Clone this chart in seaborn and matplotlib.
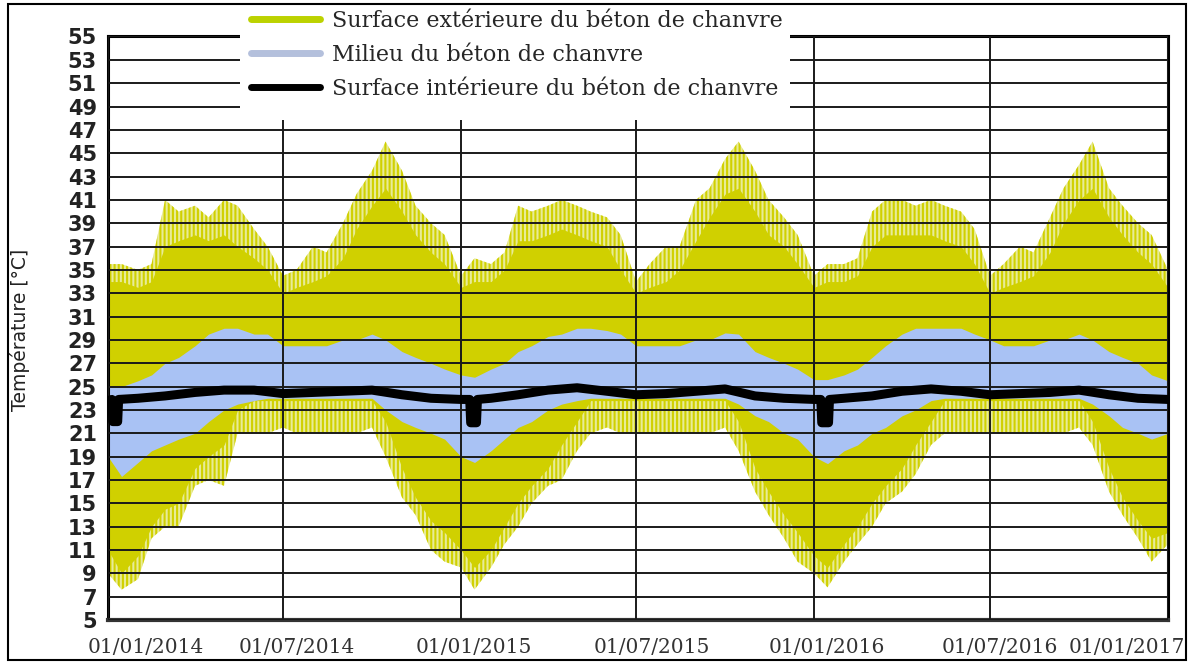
import numpy as np
import pandas as pd
import matplotlib
matplotlib.use("Agg")
import matplotlib.pyplot as plt
import matplotlib.dates as mdates
import matplotlib.transforms as mtransforms
from matplotlib.patches import Rectangle
from matplotlib.lines import Line2D
import seaborn as sns

# ---------------- data ----------------
# semi-monthly sampling dates (1st and 15th of each month)
dates = pd.date_range("2014-01-01", "2017-01-01", freq="SMS")

# Outer surface of hemp concrete: spike maxima, typical upper, typical lower, spike minima
ext_peak_hi = [35.5, 35.5, 35, 35.5, 41, 40, 40.5, 39.5, 41, 40.5, 38.5, 37,
               34.5, 35, 37, 36.5, 39, 41.5, 43.5, 46, 43.5, 40.5, 39, 38,
               34.5, 36, 35.5, 36.5, 40.5, 40, 40.5, 41, 40.5, 40, 39.5, 38,
               34, 35.5, 37, 37, 41, 42, 44.5, 46, 43.5, 41, 39.5, 38,
               34.5, 35.5, 35.5, 36, 40, 41, 41, 40.5, 41, 40.5, 40, 38.5,
               34.5, 35.5, 37, 36.5, 39.5, 42, 44, 46, 42, 40.5, 39, 38,
               35]
ext_hi = [34, 34, 33.5, 34, 37, 37.5, 38, 37.5, 38, 37, 36, 35,
          33, 33.5, 34, 34.5, 36, 38.5, 40.5, 42, 40, 38, 36.5, 35.5,
          33.5, 34, 34, 35, 37.5, 37.5, 38, 38.5, 38, 37.5, 37, 35,
          33, 33.5, 34, 35, 37.5, 39.5, 41.5, 42, 40, 38, 37, 35.5,
          33.5, 34, 34, 34.5, 37, 38, 38, 38, 38, 37.5, 37, 35.5,
          33, 33.5, 34, 34.5, 36.5, 39, 41, 42, 39.5, 38, 36.5, 35.5,
          33.5]
ext_lo = [11, 9, 10.5, 13, 14.5, 15, 18, 19, 20, 23, 23.8, 23.8,
          23.8, 23.8, 23.8, 23.8, 23.8, 23.8, 23.8, 22, 18, 15.5, 13.5, 12.5,
          11, 9.5, 11, 13, 15, 16.5, 18, 20, 22, 23.8, 23.8, 23.8,
          23.8, 23.8, 23.8, 23.8, 23.8, 23.8, 23.8, 22, 18, 16, 14, 12.5,
          10.5, 9.5, 11.5, 13, 15, 16.5, 18, 20, 22, 23.8, 23.8, 23.8,
          23.8, 23.8, 23.8, 23.8, 23.8, 23.8, 23.8, 22, 18, 15.5, 13.5, 12,
          12.5]
ext_peak_lo = [9, 7.6, 8.5, 12, 13, 13, 16.5, 17, 16.5, 21, 21, 21,
               21.5, 21, 21, 21, 21, 21, 21.5, 19, 15.5, 14, 11, 10,
               9.5, 7.6, 9.5, 11.5, 13, 15, 16.5, 17, 19.5, 21, 21.5, 21,
               21, 21, 21, 21, 21, 21, 21.5, 19.5, 16, 14, 12, 10,
               9, 7.8, 10, 11.5, 13, 15, 16, 17.5, 20, 21, 21, 21,
               21, 21, 21, 21, 21, 21, 21.5, 20, 16, 14, 12, 10,
               11.5]

# Middle of hemp concrete: upper / lower envelope
mid_hi = [25, 25, 25.5, 26, 27, 27.5, 28.5, 29.5, 30, 30, 29.5, 29.5,
          28.5, 28.5, 28.5, 28.5, 29, 29, 29.5, 29, 28, 27.5, 27, 26.5,
          26, 25.8, 26.5, 27, 28, 28.5, 29.3, 29.5, 30, 30, 29.8, 29.5,
          28.5, 28.5, 28.5, 28.5, 29, 29, 29.6, 29.5, 28, 27.5, 27, 26.5,
          25.6, 25.6, 26, 26.5, 27.5, 28.5, 29.5, 30, 30, 30, 30, 29.5,
          29, 28.5, 28.5, 28.5, 29, 29, 29.5, 29, 28, 27.5, 27, 26,
          25.5]
mid_lo = [19, 17.3, 18.5, 19.5, 20, 20.5, 21, 22, 23, 23.5, 23.8, 24,
          24, 24, 24, 24, 24, 24, 24, 23, 22, 21.5, 21, 20.5,
          19, 18.5, 19.5, 20.5, 21.5, 22, 23, 23.5, 23.8, 24, 24, 24,
          24, 24, 24, 24, 24, 24, 24, 23.5, 22.5, 22, 21, 20.5,
          19, 18.4, 19.5, 20, 21, 21.5, 22.5, 23, 23.8, 24, 24, 24,
          24, 24, 24, 24, 24, 24, 24, 23.5, 22.5, 21.5, 21, 20.5,
          21]

# Inner surface of hemp concrete
int_dates = pd.to_datetime([
    "2014-01-01", "2014-01-05", "2014-01-06", "2014-01-11", "2014-01-12", "2014-02-01",
    "2014-03-01", "2014-04-01", "2014-05-01", "2014-06-01", "2014-07-01", "2014-08-01",
    "2014-09-01", "2014-10-01", "2014-11-01", "2014-12-01", "2015-01-01", "2015-01-10",
    "2015-01-11", "2015-01-17", "2015-01-18", "2015-02-01", "2015-03-01", "2015-04-01",
    "2015-05-01", "2015-06-01", "2015-07-01", "2015-08-01", "2015-09-01", "2015-10-01",
    "2015-11-01", "2015-12-01", "2016-01-01", "2016-01-08", "2016-01-09", "2016-01-16",
    "2016-01-17", "2016-02-01", "2016-03-01", "2016-04-01", "2016-05-01", "2016-06-01",
    "2016-07-01", "2016-08-01", "2016-09-01", "2016-10-01", "2016-11-01", "2016-12-01",
    "2017-01-01"])
int_vals = [23.8, 23.9, 22.0, 22.0, 23.9, 24.0,
            24.2, 24.5, 24.7, 24.7, 24.4, 24.5,
            24.6, 24.7, 24.3, 24.0, 23.9, 23.9,
            21.9, 21.9, 23.9, 24.0, 24.3, 24.7,
            24.9, 24.6, 24.3, 24.4, 24.6, 24.8,
            24.2, 24.0, 23.9, 23.9, 21.9, 21.9,
            23.9, 24.0, 24.2, 24.6, 24.8, 24.6,
            24.3, 24.4, 24.5, 24.7, 24.3, 24.0,
            23.9]

series_labels = ["Surface extérieure du béton de chanvre",
                 "Milieu du béton de chanvre",
                 "Surface intérieure du béton de chanvre"]
y_ticks = list(range(5, 56, 2))
x_ticks = pd.to_datetime(["2014-01-01", "2014-07-01", "2015-01-01", "2015-07-01",
                          "2016-01-01", "2016-07-01", "2017-01-01"])

# ---------------- style ----------------
sns.set_theme(style="white")
plt.rcParams["font.family"] = ["DejaVu Sans"]
plt.rcParams["hatch.linewidth"] = 1.5

YEL = "#d0d000"
YEL_LIGHT = "#e8eb98"
BLUE = "#a9c2f4"

fig = plt.figure(figsize=(11.9, 6.64), dpi=100)
ax = fig.add_axes([108 / 1190, 1 - 620 / 664, (1168 - 108) / 1190, (620 - 36.5) / 664])

df = pd.DataFrame({"date": dates, "peak_hi": ext_peak_hi, "hi": ext_hi,
                   "lo": ext_lo, "peak_lo": ext_peak_lo,
                   "mid_hi": mid_hi, "mid_lo": mid_lo})
dfi = pd.DataFrame({"date": int_dates, "val": int_vals})

# spiky outer range (vertical hatch mimics the daily spikes)
ax.fill_between(df["date"], df["peak_lo"], df["peak_hi"], facecolor=YEL_LIGHT,
                edgecolor=YEL, hatch="||||", lw=0, zorder=1)
ax.fill_between(df["date"], df["lo"], df["hi"], color=YEL, lw=0, zorder=1.1)
ax.fill_between(df["date"], df["mid_lo"], df["mid_hi"], color=BLUE, lw=0, zorder=1.2)
sns.lineplot(data=dfi, x="date", y="val", ax=ax, color="black", lw=6.5, zorder=3,
             legend=False)

ax.set_xlim(pd.Timestamp("2014-01-01"), pd.Timestamp("2017-01-01"))
ax.set_ylim(5, 55)
ax.set_yticks(y_ticks)
ax.set_xticks(x_ticks)
ax.xaxis.set_major_formatter(mdates.DateFormatter("%d/%m/%Y"))
ax.set_xlabel("")
ax.set_ylabel("")

ax.set_axisbelow(False)
ax.grid(True, color="#1a1a1a", lw=1.4)
for s in ax.spines.values():
    s.set_color("black")
    s.set_linewidth(2.2)
    s.set_visible(True)
ax.spines["bottom"].set_color("#333333")
ax.spines["bottom"].set_linewidth(3)

ax.tick_params(axis="y", length=0, pad=8, labelsize=15, labelcolor="#222222")
ax.tick_params(axis="x", length=0, pad=13, labelsize=14.5, labelcolor="#333333")
for lab in ax.get_yticklabels():
    lab.set_fontweight("bold")
    lab.set_family("DejaVu Sans")
offsets = [0.38, 0.14, 0.13, 0.16, 0.13, 0.10, -0.41]
for lab, off in zip(ax.get_xticklabels(), offsets):
    lab.set_family("DejaVu Serif")
    lab.set_transform(lab.get_transform() +
                      mtransforms.ScaledTranslation(off, 0, fig.dpi_scale_trans))

fig.text(20 / 1190, 1 - 330 / 664, "Température [°C]", rotation=90, ha="center",
         va="center", fontsize=13.5, color="#222222")

# white box behind legend
fig.patches.append(Rectangle((240 / 1190, 1 - 120 / 664), (790 - 240) / 1190, 120 / 664,
                             transform=fig.transFigure, facecolor="white",
                             edgecolor="none", zorder=3))
handles = [Line2D([], [], color="#bcd200", lw=5),
           Line2D([], [], color="#b4c0dc", lw=5),
           Line2D([], [], color="black", lw=5)]
leg = fig.legend(handles, series_labels, loc="upper left",
                 bbox_to_anchor=(251 / 1190, 1 - 10 / 664), frameon=False,
                 prop={"family": "DejaVu Serif", "size": 16},
                 handlelength=3.1, handletextpad=0.55, labelspacing=0.53,
                 borderpad=0, borderaxespad=0)
leg.set_zorder(5)

# outer frame
fig.patches.append(Rectangle((8 / 1190, 4 / 664), (1186 - 8) / 1190, (660 - 4) / 664,
                             transform=fig.transFigure, fill=False,
                             edgecolor="black", lw=1.5, zorder=10))

fig.savefig("out.png", dpi=100)
